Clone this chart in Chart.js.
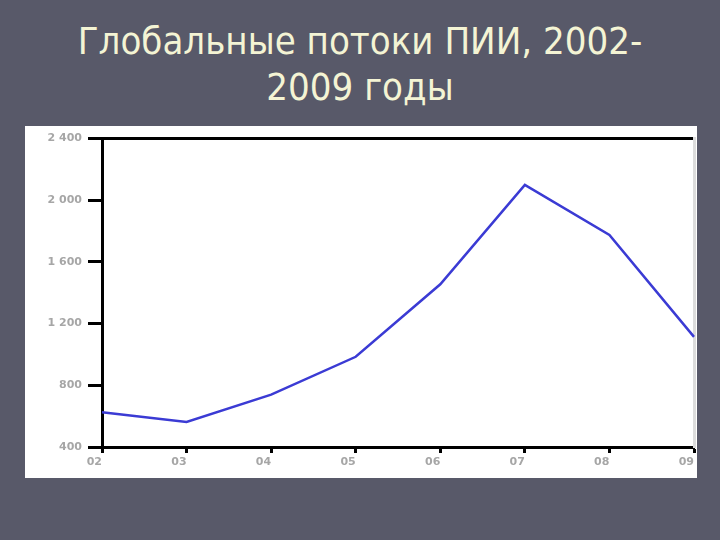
<!DOCTYPE html>
<html lang="ru">
<head>
<meta charset="utf-8">
<script src="https://cdn.jsdelivr.net/npm/chart.js@4/dist/chart.umd.min.js"></script>
<style>
  html, body { margin: 0; padding: 0; }
  body {
    width: 720px; height: 540px; overflow: hidden;
    background: #585969; position: relative;
  }
  #title {
    position: absolute; left: 0; top: 18px; width: 720px;
    text-align: center; color: #f4f4d4;
    font-family: 'DejaVu Sans Condensed', 'DejaVu Sans', sans-serif;
    font-size: 38px; line-height: 46px;
  }
  #panel {
    position: absolute; left: 25px; top: 126px;
    width: 672px; height: 352px; background: #ffffff;
  }
</style>
</head>
<body>
<div id="title">Глобальные потоки ПИИ, 2002-<br>2009 годы</div>
<div id="panel"><canvas id="fdiChart" width="672" height="352"></canvas></div>
<script>
// Data (billions USD)
const years = ['02', '03', '04', '05', '06', '07', '08', '09'];
const fdiFlows = [625, 562, 740, 985, 1455, 2100, 1775, 1114];
const yTicks = [400, 800, 1200, 1600, 2000, 2400];
const yTickLabels = ['400', '800', '1 200', '1 600', '2 000', '2 400'];

const axisColor = '#000000';
const labelColor = '#a6a6a6';
const lineColor = '#3b3bd4';
const fontFamily = "'DejaVu Sans', sans-serif";

const ctx = document.getElementById('fdiChart').getContext('2d');

new Chart(ctx, {
    type: 'line',
    data: {
        labels: years,
        datasets: [{
            data: fdiFlows,
            borderColor: lineColor,
            borderWidth: 2.5,
            pointRadius: 0,
            tension: 0,
            fill: false
        }]
    },
    options: {
        responsive: false,
        animation: false,
        layout: { padding: { top: 12, right: 2, left: 0, bottom: 0 } },
        plugins: {
            legend: { display: false },
            tooltip: { enabled: false }
        },
        scales: {
            x: {
                type: 'category',
                offset: false,
                grid: { drawOnChartArea: false, tickLength: 6, tickWidth: 3, color: axisColor },
                border: { color: axisColor, width: 3 },
                ticks: {
                    align: 'end',
                    padding: 3,
                    maxRotation: 0,
                    autoSkip: false,
                    color: labelColor,
                    font: { family: fontFamily, size: 11, weight: 'bold' }
                },
                afterFit: scale => { scale.height = 31; }
            },
            xTop: {
                type: 'category',
                position: 'top',
                grid: { display: false },
                border: { color: axisColor, width: 3 },
                ticks: { display: false },
                afterFit: scale => { scale.height = 0; }
            },
            y: {
                min: 400,
                max: 2400,
                afterBuildTicks: scale => { scale.ticks = yTicks.map(v => ({ value: v })); },
                grid: { drawOnChartArea: false, tickLength: 14, tickWidth: 3, color: axisColor },
                border: { color: axisColor, width: 3 },
                ticks: {
                    padding: 6,
                    color: labelColor,
                    font: { family: fontFamily, size: 11, weight: 'bold' },
                    callback: (value, i) => yTickLabels[i]
                },
                afterFit: scale => { scale.width = 77; }
            },
            yRight: {
                position: 'right',
                min: 400,
                max: 2400,
                grid: { display: false },
                border: { color: '#dcdcdc', width: 3 },
                ticks: { display: false },
                afterFit: scale => { scale.width = 0; }
            }
        }
    }
});
</script>
</body>
</html>
